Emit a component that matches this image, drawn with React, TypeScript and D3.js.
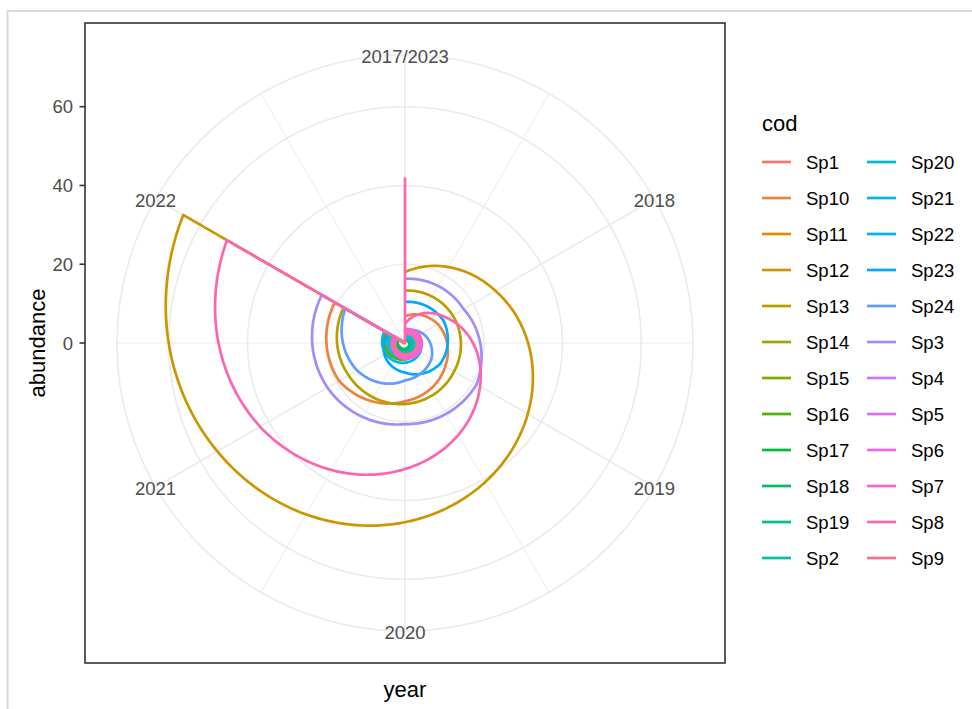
import React from "react";
import * as d3 from "d3";

// ---------- data ----------
const species = [
  "Sp1", "Sp10", "Sp11", "Sp12", "Sp13", "Sp14", "Sp15", "Sp16", "Sp17", "Sp18", "Sp19", "Sp2",
  "Sp20", "Sp21", "Sp22", "Sp23", "Sp24", "Sp3", "Sp4", "Sp5", "Sp6", "Sp7", "Sp8", "Sp9",
];
const years = [2017, 2018, 2019, 2020, 2021, 2022];
const thetaBreaks = [2017, 2018, 2019, 2020, 2021, 2022];
const thetaMinor = [2017.5, 2018.5, 2019.5, 2020.5, 2021.5, 2022.5];
const thetaLabels = ["2017/2023", "2018", "2019", "2020", "2021", "2022"];
const rBreaks = [0, 20, 40, 60];

// abundance per species for years 2017..2022
const sp1 = [0.8, 1.2, 1.5, 1.8, 2.0, 2.3];
const sp10 = [6.8, 9.6, 11.8, 14.8, 19.3, 20.6];
const sp11 = [1.0, 1.5, 2.0, 2.4, 2.8, 3.0];
const sp12 = [18, 26.5, 36, 45.5, 55, 65];
const sp13 = [13.3, 14, 14.4, 15.5, 16.5, 18];
const sp14 = [1.5, 2.2, 2.8, 3.2, 3.6, 4.0];
const sp15 = [2.0, 2.8, 3.5, 4.2, 4.8, 5.2];
const sp16 = [1.8, 2.5, 3.2, 4.0, 5.0, 5.5];
const sp17 = [0.6, 1.0, 1.4, 1.8, 2.1, 2.4];
const sp18 = [0.5, 0.9, 1.2, 1.5, 1.7, 2.0];
const sp19 = [1.2, 1.6, 2.0, 2.4, 2.8, 3.1];
const sp2 = [1.0, 1.4, 1.9, 2.3, 2.6, 3.0];
const sp20 = [1.5, 2.0, 2.6, 3.0, 3.5, 3.8];
const sp21 = [2.0, 2.6, 3.1, 3.6, 4.2, 4.6];
const sp22 = [2.5, 3.5, 4.5, 5.0, 5.6, 6.0];
const sp23 = [10.4, 11.3, 10.4, 7.5, 6, 4.5];
const sp24 = [2.5, 5, 7.8, 9.5, 14, 17.5];
const sp3 = [16.3, 17.2, 21, 20.6, 22.7, 24.4];
const sp4 = [3.0, 3.6, 3.9, 3.6, 3.2, 3.0];
const sp5 = [2.6, 3.2, 3.5, 3.3, 3.0, 2.8];
const sp6 = [3.2, 3.8, 4.0, 3.7, 3.3, 3.0];
const sp7 = [3.5, 4.2, 4.3, 4.0, 3.5, 3.2];
const sp8 = [4.8, 12.5, 22, 32, 42.5, 52.2];
const sp9 = [2.2, 2.8, 3.1, 2.9, 2.6, 2.4];
// value recorded at 2023 (after dropping to 0 in 2022)
const final2023 = [0, 0, 0, 0, 0, 0, 0, 0, 0, 0, 0, 0, 0, 0, 0, 0, 0, 0, 0, 0, 0, 0, 42, 0];

const seriesValues = [
  sp1, sp10, sp11, sp12, sp13, sp14, sp15, sp16, sp17, sp18, sp19, sp2,
  sp20, sp21, sp22, sp23, sp24, sp3, sp4, sp5, sp6, sp7, sp8, sp9,
];

// ---------- colours (ggplot hue palette, polar LUV) ----------
function hclLuv(h: number, c: number, l: number): string {
  const hr = (h * Math.PI) / 180;
  const U = c * Math.cos(hr);
  const V = c * Math.sin(hr);
  const Y = 100 * (l > 7.999592 ? Math.pow((l + 16) / 116, 3) : l / 903.3);
  const un = 0.1978398;
  const vn = 0.4683363;
  const u = U / (13 * l) + un;
  const v = V / (13 * l) + vn;
  const X = (9.0 * Y * u) / (4 * v);
  const Z = -X / 3 - 5 * Y + (3 * Y) / v;
  const x = X / 100, y = Y / 100, z = Z / 100;
  const lin = [
    3.240479 * x - 1.53715 * y - 0.498535 * z,
    -0.969256 * x + 1.875992 * y + 0.041556 * z,
    0.055648 * x - 0.204043 * y + 1.057311 * z,
  ];
  const g = lin.map((t) => {
    const s = t <= 0.0031308 ? 12.92 * t : 1.055 * Math.pow(t, 1 / 2.4) - 0.055;
    return Math.round(Math.max(0, Math.min(1, s)) * 255);
  });
  return d3.rgb(g[0], g[1], g[2]).formatHex();
}
const colors = species.map((_, i) => hclLuv(15 + (360 / species.length) * i, 100, 65));

// ---------- layout ----------
const W = 972, H = 709;
const panel = { x: 85, y: 23, w: 640, h: 640 };
const cx = panel.x + panel.w / 2;
const cy = panel.y + panel.h / 2;
const unit = panel.w;

const rScale = d3.scaleLinear().domain([0, 65]).range([0, 0.4 * unit]);
const tScale = d3.scaleLinear().domain([2017, 2023]).range([0, 2 * Math.PI]);

function toXY(year: number, val: number): [number, number] {
  const r = rScale(val);
  const t = tScale(year);
  return [cx + r * Math.sin(t), cy - r * Math.cos(t)];
}

function munch(pts: [number, number][]): [number, number][] {
  const out: [number, number][] = [];
  for (let i = 0; i < pts.length - 1; i++) {
    const [x0, y0] = pts[i];
    const [x1, y1] = pts[i + 1];
    const n = 60;
    for (let k = 0; k < n; k++) {
      const f = k / n;
      out.push(toXY(x0 + (x1 - x0) * f, y0 + (y1 - y0) * f));
    }
  }
  const last = pts[pts.length - 1];
  out.push(toXY(last[0], last[1]));
  return out;
}

const line = d3.line<[number, number]>().x((d) => d[0]).y((d) => d[1]);

const FONT = "'Liberation Sans', Arial, Helvetica, sans-serif";

export default function App() {
  const grid = "#EBEBEB";
  const rOuter = 0.45 * unit;

  const paths = seriesValues.map((vals, i) => {
    const pts: [number, number][] = years.map((yr, j) => [yr, vals[j]] as [number, number]);
    pts.push([2022, 0]);
    pts.push([2023, 0]);
    if (final2023[i] !== 0) pts.push([2023, final2023[i]]);
    return line(munch(pts)) || "";
  });

  const legendRows = 12;
  const legendX = [762, 867];
  const legendY0 = 162;
  const legendDy = 36;

  return (
    <svg width={W} height={H} style={{ position: "absolute", left: 0, top: 0, background: "#fff" }}>
      <rect x={0} y={0} width={W} height={H} fill="#fff" />
      <path d={`M7.5,${H} V11 H${W}`} fill="none" stroke="#D9D9D9" strokeWidth={2} />

      <defs>
        <clipPath id="clip">
          <rect x={panel.x} y={panel.y} width={panel.w} height={panel.h} />
        </clipPath>
      </defs>

      {/* grid */}
      <g clipPath="url(#clip)">
        {thetaMinor.map((t, i) => {
          const [x, y] = [cx + rOuter * Math.sin(tScale(t)), cy - rOuter * Math.cos(tScale(t))];
          return <line key={"mn" + i} x1={cx} y1={cy} x2={x} y2={y} stroke={grid} strokeWidth={1} />;
        })}
        {thetaBreaks.map((t, i) => {
          const [x, y] = [cx + rOuter * Math.sin(tScale(t)), cy - rOuter * Math.cos(tScale(t))];
          return <line key={"mj" + i} x1={cx} y1={cy} x2={x} y2={y} stroke={grid} strokeWidth={1.6} />;
        })}
        {rBreaks.map((b, i) => (
          <circle key={"c" + i} cx={cx} cy={cy} r={rScale(b)} fill="none" stroke={grid} strokeWidth={1.6} />
        ))}
        <circle cx={cx} cy={cy} r={rOuter} fill="none" stroke={grid} strokeWidth={1.6} />
      </g>

      {/* data lines */}
      <g clipPath="url(#clip)">
        {paths.map((d, i) => (
          <path key={species[i]} d={d} fill="none" stroke={colors[i]} strokeWidth={2.7} strokeLinejoin="round" />
        ))}
      </g>

      {/* theta labels */}
      {thetaBreaks.map((t, i) => {
        const x = cx + rOuter * Math.sin(tScale(t));
        const y = cy - rOuter * Math.cos(tScale(t));
        return (
          <text key={"tl" + i} x={x} y={y + 1.5} textAnchor="middle" dominantBaseline="central"
            fontFamily={FONT} fontSize={18.5} fill="#4D4D4D">
            {thetaLabels[i]}
          </text>
        );
      })}

      {/* panel border */}
      <rect x={panel.x} y={panel.y} width={panel.w} height={panel.h} fill="none" stroke="#333333" strokeWidth={1.6} />

      {/* r axis */}
      {rBreaks.map((b, i) => {
        const y = cy - rScale(b);
        return (
          <g key={"ra" + i}>
            <line x1={panel.x - 5.5} x2={panel.x} y1={y} y2={y} stroke="#333333" strokeWidth={1.6} />
            <text x={panel.x - 12} y={y} textAnchor="end" dominantBaseline="central"
              fontFamily={FONT} fontSize={18.5} fill="#4D4D4D">
              {b}
            </text>
          </g>
        );
      })}

      {/* axis titles */}
      <text transform={`translate(45,${cy}) rotate(-90)`} textAnchor="middle" fontFamily={FONT} fontSize={22} fill="#000">
        abundance
      </text>
      <text x={cx} y={697} textAnchor="middle" fontFamily={FONT} fontSize={22} fill="#000">
        year
      </text>

      {/* legend */}
      <text x={762} y={131} fontFamily={FONT} fontSize={22} fill="#000">cod</text>
      {species.map((s, i) => {
        const col = Math.floor(i / legendRows);
        const row = i % legendRows;
        const x = legendX[col];
        const y = legendY0 + row * legendDy;
        return (
          <g key={"lg" + s}>
            <line x1={x} x2={x + 29} y1={y} y2={y} stroke={colors[i]} strokeWidth={2.7} />
            <text x={x + 44} y={y} dominantBaseline="central" fontFamily={FONT} fontSize={18.5} fill="#000">
              {s}
            </text>
          </g>
        );
      })}
    </svg>
  );
}
